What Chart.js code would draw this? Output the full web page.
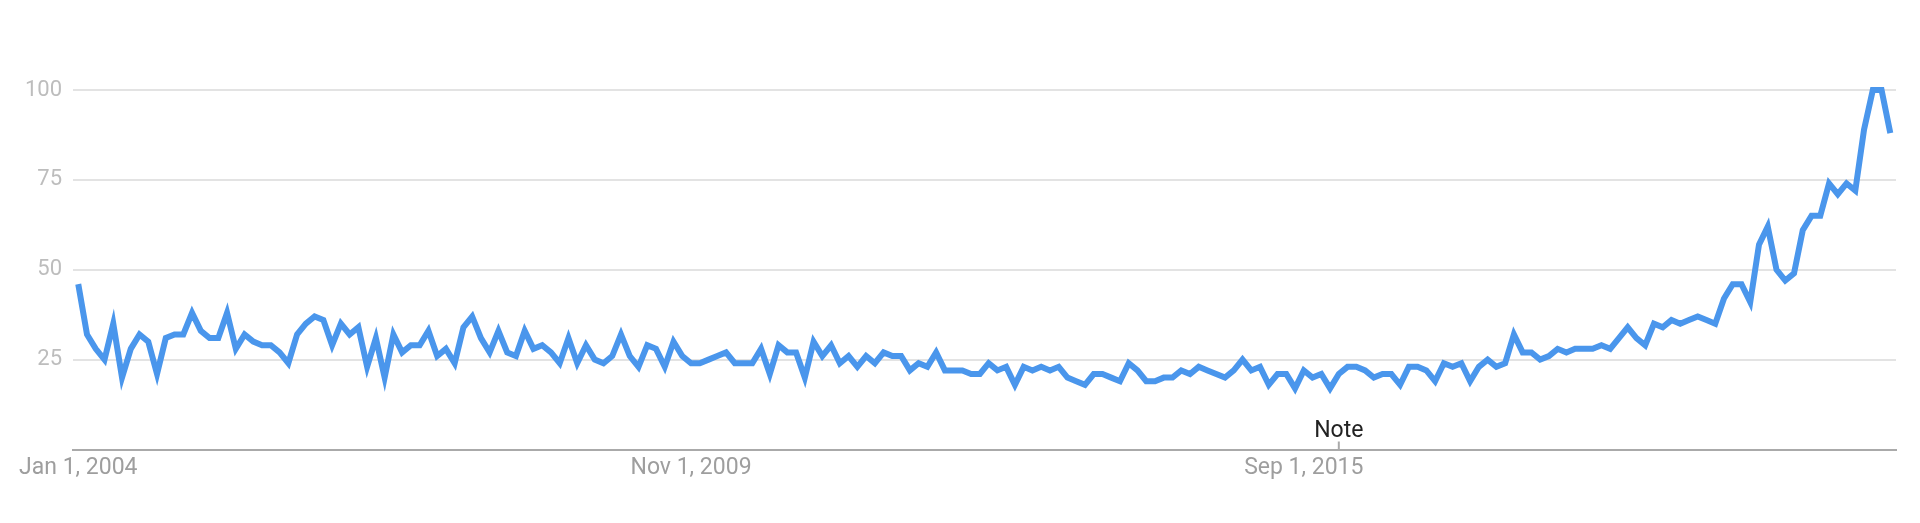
<!DOCTYPE html>
<html>
<head>
<meta charset="utf-8">
<script src="https://cdn.jsdelivr.net/npm/chart.js@4"></script>
<style>
  html, body { margin: 0; padding: 0; background: #fff; }
  #grafico { display: block; }
</style>
</head>
<body>
<canvas id="grafico" width="1920" height="523"></canvas>
<script>
// monthly interest, Jan 2004 .. Apr 2021
const interest = [
  46, 32, 28, 25, 35, 20, 28, 32, 30, 21, 31, 32, 32, 38, 33, 31, 31, 38, 28, 32,
  30, 29, 29, 27, 24, 32, 35, 37, 36, 29, 35, 32, 34, 23, 31, 20, 32, 27, 29, 29,
  33, 26, 28, 24, 34, 37, 31, 27, 33, 27, 26, 33, 28, 29, 27, 24, 31, 24, 29, 25,
  24, 26, 32, 26, 23, 29, 28, 23, 30, 26, 24, 24, 25, 26, 27, 24, 24, 24, 28, 21,
  29, 27, 27, 20, 30, 26, 29, 24, 26, 23, 26, 24, 27, 26, 26, 22, 24, 23, 27, 22,
  22, 22, 21, 21, 24, 22, 23, 18, 23, 22, 23, 22, 23, 20, 19, 18, 21, 21, 20, 19,
  24, 22, 19, 19, 20, 20, 22, 21, 23, 22, 21, 20, 22, 25, 22, 23, 18, 21, 21, 17,
  22, 20, 21, 17, 21, 23, 23, 22, 20, 21, 21, 18, 23, 23, 22, 19, 24, 23, 24, 19,
  23, 25, 23, 24, 32, 27, 27, 25, 26, 28, 27, 28, 28, 28, 29, 28, 31, 34, 31, 29,
  35, 34, 36, 35, 36, 37, 36, 35, 42, 46, 46, 41, 57, 62, 50, 47, 49, 61, 65, 65,
  74, 71, 74, 72, 89, 100, 100, 88
];

// x axis labels and the month index they sit on
const tickMonths = [0, 70, 140];
const tickLabels = ['Jan 1, 2004', 'Nov 1, 2009', 'Sep 1, 2015'];
const yTicks = [25, 50, 75, 100];

// annotation
const noteMonth = 144;
const noteText = 'Note';

const points = interest.map((v, i) => ({ x: i, y: v }));

const notePlugin = {
    id: 'note',
    afterDraw(chart) {
        const c = chart.ctx;
        const x = chart.scales.x.getPixelForValue(noteMonth);
        const bottom = chart.chartArea.bottom;
        c.save();
        c.strokeStyle = '#aaaaaa';
        c.lineWidth = 2;
        c.beginPath();
        c.moveTo(x, bottom - 8);
        c.lineTo(x, bottom);
        c.stroke();
        c.fillStyle = '#222222';
        c.font = '23px Roboto';
        c.textAlign = 'center';
        c.textBaseline = 'alphabetic';
        c.fillText(noteText, x, bottom - 13);
        c.restore();
    }
};

const ctx = document.getElementById('grafico').getContext('2d');
new Chart(ctx, {
    type: 'line',
    data: {
        datasets: [{
            data: points,
            borderColor: '#4a96ec',
            borderWidth: 6,
            pointRadius: 0,
            tension: 0,
            fill: false,
            clip: false
        }]
    },
    options: {
        responsive: false,
        animation: false,
        devicePixelRatio: 1,
        layout: { padding: { top: 90, right: 24, left: 0, bottom: 0 } },
        plugins: {
            legend: { display: false },
            tooltip: { enabled: false }
        },
        scales: {
            x: {
                type: 'linear',
                min: -0.6,
                max: 207.65,
                afterBuildTicks: function(scale) {
                    scale.ticks = tickMonths.map(v => ({ value: v }));
                },
                afterFit: function(scale) {
                    scale.height = 73.5;
                },
                grid: { display: false, drawTicks: false },
                border: { display: true, color: '#aaaaaa', width: 2 },
                ticks: {
                    autoSkip: false,
                    maxRotation: 0,
                    padding: 5,
                    color: '#9e9e9e',
                    font: { family: 'Roboto', size: 23 },
                    callback: function(value) {
                        const k = tickMonths.indexOf(value);
                        return k >= 0 ? tickLabels[k] : '';
                    }
                }
            },
            y: {
                min: 0,
                max: 100,
                afterBuildTicks: function(scale) {
                    scale.ticks = yTicks.map(v => ({ value: v }));
                },
                afterFit: function(scale) {
                    scale.width = 73;
                },
                grid: { color: '#e3e3e3', lineWidth: 2, drawTicks: false },
                border: { display: false },
                ticks: {
                    padding: 11,
                    color: '#bdbdbd',
                    font: { family: 'Roboto', size: 22 }
                }
            }
        }
    },
    plugins: [notePlugin]
});
</script>
</body>
</html>
